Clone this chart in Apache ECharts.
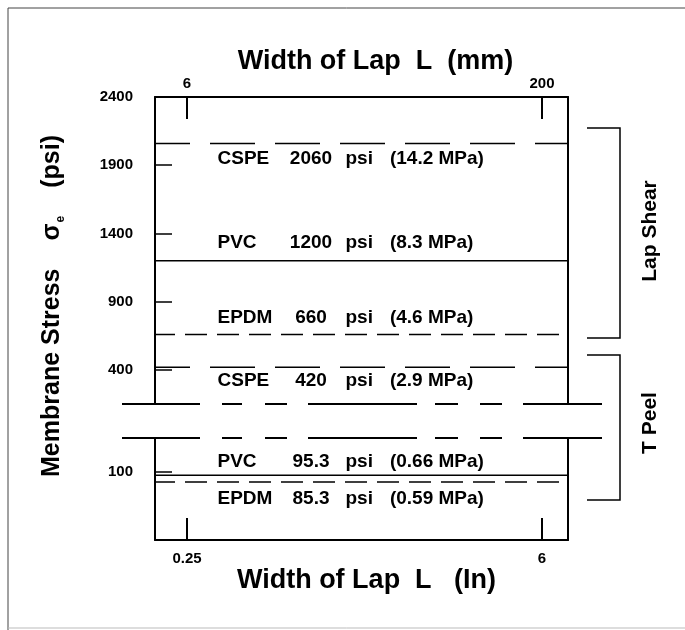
<!DOCTYPE html>
<html>
<head>
<meta charset="utf-8">
<script src="https://cdn.jsdelivr.net/npm/echarts@6/dist/echarts.min.js"></script>
<style>
  html, body { margin: 0; padding: 0; background: #fff; }
  #chart { width: 685px; height: 630px; }
</style>
</head>
<body>
<div id="chart"></div>
<script>
// membrane stress at failure for each seam test
const materials = ['CSPE', 'PVC', 'EPDM', 'CSPE', 'PVC', 'EPDM'];
const stressPsi = [2060, 1200, 660, 420, 95.3, 85.3];
const stressMPa = ['14.2', '8.3', '4.6', '2.9', '0.66', '0.59'];
const testGroups = ['Lap Shear', 'T Peel'];
const upperTicks = [400, 900, 1400, 1900, 2400];
const lowerTicks = [100];
const lapMmTicks = [6, 200];
const lapInTicks = [0.25, 6];

// layout
const FONT = '"Liberation Sans", Arial, Helvetica, sans-serif';
const plotLeft = 155, plotRight = 568;
const upperTop = 97, upperBottom = 404;
const lowerTop = 438, lowerBottom = 540;
const breakPsi = 150;
const mmRange = [-11.5, 214.2];
const inRange = [-0.268, 6.421];
const labelDy = [15, -18, -17, 14, -13, 17];
const dashes = { CSPE: [45, 20], PVC: 'solid', EPDM: [22, 10] };
const dashOff = { CSPE: 10, PVC: 0, EPDM: 2 };

const chart = echarts.init(document.getElementById('chart'), null, { renderer: 'canvas' });

const black = '#000';
const tickLabel = { fontFamily: FONT, fontWeight: 'bold', fontSize: 15, color: black };
const txt = { fontFamily: FONT, fontWeight: 'bold', fontSize: 19, color: black };

const series = [];
stressPsi.forEach(function (v, i) {
  const upper = v > breakPsi;
  const xr = upper ? mmRange : inRange;
  const idx = upper ? 0 : 1;
  const m = materials[i];
  series.push({
    type: 'line', xAxisIndex: idx, yAxisIndex: idx, symbol: 'none', silent: true,
    lineStyle: { color: black, width: 1.5, type: dashes[m], dashOffset: dashOff[m] },
    data: [[xr[0], v], [xr[1], v]]
  });
  series.push({
    type: 'scatter', xAxisIndex: idx, yAxisIndex: idx, symbolSize: 1, silent: true,
    itemStyle: { color: 'rgba(0,0,0,0)' },
    data: [[xr[0], v]],
    label: Object.assign({
      show: true, position: 'right', distance: 62, offset: [0, labelDy[i]], opacity: 1,
      formatter: '{n|' + m + '}{v|' + v + '}{u|psi}{m|(' + stressMPa[i] + ' MPa)}',
      rich: {
        n: Object.assign({ width: 72 }, txt),
        v: Object.assign({ width: 43, align: 'right' }, txt),
        u: Object.assign({ padding: [0, 0, 0, 13] }, txt),
        m: Object.assign({ padding: [0, 0, 0, 17] }, txt)
      }
    }, txt)
  });
});

function plain(v) { return String(v); }

function xAx(grid, pos, range, ticks, name, nameGap, shift) {
  return {
    gridIndex: grid, type: 'value', position: pos, min: range[0], max: range[1],
    name: name, nameLocation: 'middle', nameGap: nameGap,
    nameTextStyle: { fontFamily: FONT, fontWeight: 'bold', fontSize: 27, color: black, padding: [0, 0, 0, shift] },
    axisLine: { show: true, onZero: false, lineStyle: { color: black, width: 2 } },
    axisTick: { show: true, inside: true, length: 22, customValues: ticks, lineStyle: { color: black, width: 2 } },
    axisLabel: Object.assign({ show: true, customValues: ticks, formatter: plain, margin: pos === 'top' ? 6 : 11 }, tickLabel),
    splitLine: { show: false }
  };
}

function yAx(grid, pos, range, ticks) {
  const left = pos === 'left';
  return {
    gridIndex: grid, type: 'value', position: pos, min: range[0], max: range[1],
    axisLine: { show: true, onZero: false, lineStyle: { color: black, width: 2 } },
    axisTick: { show: left, inside: true, length: 17, customValues: ticks, lineStyle: { color: black, width: 1.5 } },
    axisLabel: Object.assign({ show: left, customValues: ticks, formatter: plain, margin: 22 }, tickLabel),
    splitLine: { show: false }
  };
}

function bracket(y0, y1) {
  return {
    type: 'polyline', silent: true,
    shape: { points: [[587, y0], [620, y0], [620, y1], [587, y1]] },
    style: { stroke: black, lineWidth: 1.5, fill: null }
  };
}

function vText(x, y, text, size, rich) {
  return {
    type: 'text', x: x, y: y, rotation: Math.PI / 2, silent: true,
    style: { text: text, fontFamily: FONT, fontWeight: 'bold', fontSize: size, fill: black,
             align: 'center', verticalAlign: 'middle', rich: rich }
  };
}

const breakDash = [78, 22, 20, 23, 22, 21, 109, 18, 23, 22, 22, 21, 80, 10];

chart.setOption({
  backgroundColor: '#fff',
  animation: false,
  grid: [
    { left: plotLeft, right: 685 - plotRight, top: upperTop, height: upperBottom - upperTop },
    { left: plotLeft, right: 685 - plotRight, top: lowerTop, height: lowerBottom - lowerTop }
  ],
  xAxis: [
    xAx(0, 'top', mmRange, lapMmTicks, 'Width of Lap  L  (mm)', 15, 28),
    xAx(1, 'bottom', inRange, lapInTicks, 'Width of Lap  L   (In)', 18, 10)
  ],
  yAxis: [
    yAx(0, 'left', [breakPsi, 2400], upperTicks),
    yAx(1, 'left', [0, breakPsi], lowerTicks),
    yAx(0, 'right', [breakPsi, 2400], []),
    yAx(1, 'right', [0, breakPsi], [])
  ],
  series: series,
  graphic: [
    // axis break
    { type: 'line', silent: true, shape: { x1: 122, y1: upperBottom, x2: 602, y2: upperBottom },
      style: { stroke: black, lineWidth: 2, lineDash: breakDash } },
    { type: 'line', silent: true, shape: { x1: 122, y1: lowerTop, x2: 602, y2: lowerTop },
      style: { stroke: black, lineWidth: 2, lineDash: breakDash } },
    // test group brackets
    bracket(128, 338),
    bracket(355, 500),
    vText(650, 231, testGroups[0], 21),
    vText(650, 423, testGroups[1], 21),
    // y axis title
    vText(52, 306, '{t|Membrane Stress}{s|σ}{e|e}{t|(psi)}', 25, {
      t: { fontFamily: FONT, fontWeight: 'bold', fontSize: 25, lineHeight: 30 },
      s: { fontFamily: FONT, fontWeight: 'bold', fontSize: 25, lineHeight: 30, padding: [0, 0, 0, 28] },
      e: { fontFamily: FONT, fontWeight: 'bold', fontSize: 12, lineHeight: 30, verticalAlign: 'bottom', padding: [0, 28, 0, 1] }
    }),
    // page edges of the scan
    { type: 'line', silent: true, shape: { x1: 8, y1: 8, x2: 685, y2: 8 }, style: { stroke: '#444', lineWidth: 1 } },
    { type: 'line', silent: true, shape: { x1: 8, y1: 8, x2: 8, y2: 630 }, style: { stroke: '#444', lineWidth: 1 } },
    { type: 'line', silent: true, shape: { x1: 8, y1: 628, x2: 685, y2: 628 }, style: { stroke: '#bbb', lineWidth: 1 } }
  ]
});
</script>
</body>
</html>
